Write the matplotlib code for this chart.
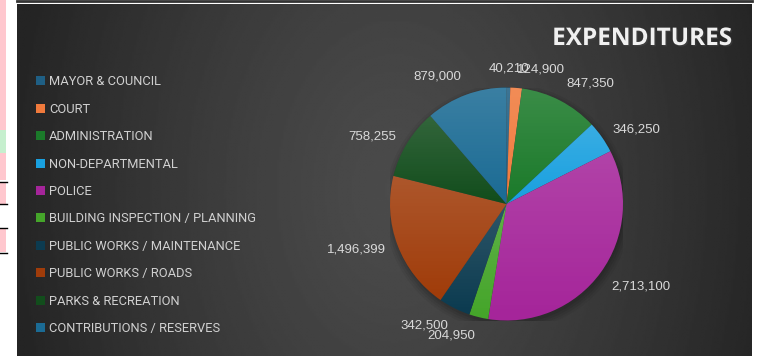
import matplotlib
matplotlib.use("Agg")
import matplotlib.pyplot as plt
import matplotlib.patheffects as pe
import numpy as np
from matplotlib.patches import Circle, Rectangle

departments = [
    "MAYOR & COUNCIL",
    "COURT",
    "ADMINISTRATION",
    "NON-DEPARTMENTAL",
    "POLICE",
    "BUILDING INSPECTION / PLANNING",
    "PUBLIC WORKS / MAINTENANCE",
    "PUBLIC WORKS / ROADS",
    "PARKS & RECREATION",
    "CONTRIBUTIONS / RESERVES",
]
amounts = [40210, 124900, 847350, 346250, 2713100, 204950, 342500, 1496399, 758255, 879000]
colors = [
    "#1f5f84", "#f07a3c", "#1b7a2a", "#19a0df", "#a5259a",
    "#45a52a", "#0c3b50", "#a03c0a", "#124d1c", "#1b6b94",
]

W, H, DPI = 757, 356, 100
fig = plt.figure(figsize=(W / DPI, H / DPI), dpi=DPI, facecolor="white")


def px(x0, y0, w, h):
    # pixel box (top-left origin) -> figure fraction rect
    return [x0 / W, 1 - (y0 + h) / H, w / W, h / H]


# spreadsheet cells peeking out on the left
cells = fig.add_axes([0, 0, 1, 1], zorder=-5)
cells.set_xlim(0, W)
cells.set_ylim(H, 0)
cells.axis("off")
cells.add_patch(Rectangle((0, 0), 6, 180, color="#ffc7ce", lw=0))
cells.add_patch(Rectangle((0, 130), 6, 23, color="#c6efce", lw=0))
cells.add_patch(Rectangle((0, 183), 6, 21, color="#ffc7ce", lw=0))
cells.add_patch(Rectangle((0, 229), 6, 23, color="#ffc7ce", lw=0))
for y in (182, 204, 228, 253):
    cells.plot([0, 7], [y, y], color="black", lw=1)
cells.plot([17, 752], [1, 1], color="#333333", lw=2)

# dark chart area with a soft radial glow
bg = fig.add_axes(px(17, 4, 735, 352), zorder=-4)
gx, gy = np.meshgrid(np.linspace(17, 752, 400), np.linspace(4, 356, 200))
d = np.sqrt(((gx - 395) / 390) ** 2 + ((gy - 190) / 560) ** 2)
shade = (0x4b - (0x4b - 0x24) * np.clip(d, 0, 1) ** 1.3) / 255
bg.imshow(shade, cmap="gray", vmin=0, vmax=1, aspect="auto",
          extent=[0, 1, 0, 1], interpolation="bilinear")
bg.axis("off")

# pie
cx, cy, r = 506.5, 204, 116.5
ax = fig.add_axes(px(cx - r, cy - r, 2 * r, 2 * r))
for k, a in enumerate([0.05, 0.06, 0.07, 0.08]):
    ax.add_patch(Circle((0.01, -0.03), 1.06 - 0.02 * k, color="black",
                        alpha=a, lw=0, zorder=0))
wedges, _ = ax.pie(amounts, colors=colors, startangle=90, counterclock=False,
                   radius=1, wedgeprops=dict(linewidth=0, zorder=1))

# light sheen from top to bottom of each slice
sheen = np.zeros((64, 1, 4))
sheen[..., :3] = 1
sheen[:, 0, 3] = np.linspace(0.14, 0.0, 64)
for w in wedges:
    b = w.get_path().get_extents()
    im = ax.imshow(sheen, extent=[b.x0, b.x1, b.y0, b.y1], aspect="auto",
                   interpolation="bilinear", zorder=2)
    im.set_clip_path(w)

ax.set_xlim(-1, 1)
ax.set_ylim(-1, 1)
ax.set_aspect("equal")
ax.axis("off")

# value labels just outside each slice
for w, val in zip(wedges, amounts):
    mid = np.deg2rad((w.theta1 + w.theta2) / 2)
    x, y = 1.11 * np.cos(mid), 1.11 * np.sin(mid)
    if abs(x) < 0.06:
        ha = "center"
    else:
        ha = "left" if x > 0 else "right"
    if y > 0.7:
        va = "bottom"
    elif y < -0.6:
        va = "top"
    else:
        va = "center"
    ax.text(x, y, f"{val:,}", ha=ha, va=va, fontsize=9.5, color="#d9d9d9",
            family="Liberation Sans", clip_on=False, zorder=5)

fig.text(731 / W, 1 - 39 / H, "EXPENDITURES", ha="right", va="center",
         fontsize=17.5, fontweight="bold", family="Open Sans", color="#f0f0f0",
         path_effects=[pe.SimplePatchShadow(offset=(1, -1), alpha=0.5), pe.Normal()])

leg = fig.legend(wedges, departments, loc="upper left",
                 bbox_to_anchor=(31 / W, 1 - 70 / H), frameon=False,
                 prop=dict(family="Roboto", size=9.3), labelcolor="#d0d0d0",
                 handlelength=0.7, handleheight=0.7, handletextpad=0.3,
                 labelspacing=1.12, borderaxespad=0)

fig.savefig("out.png", dpi=DPI, facecolor="white")
